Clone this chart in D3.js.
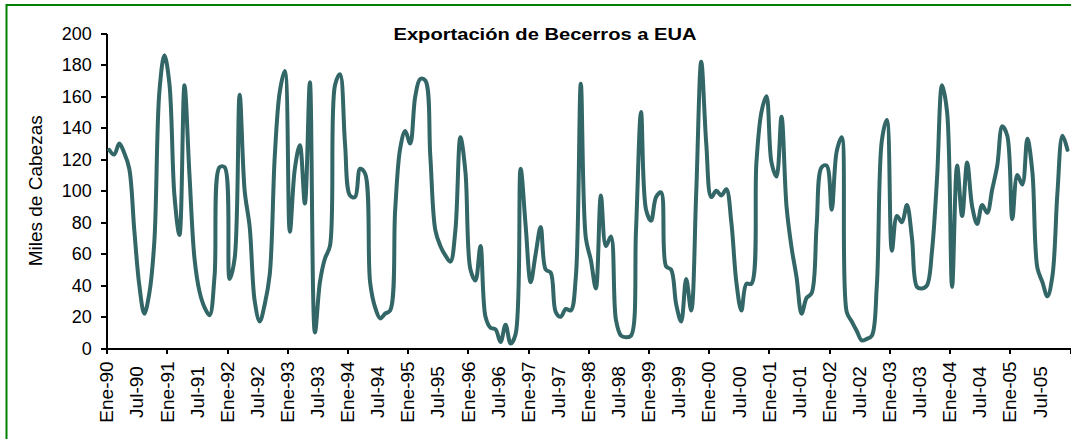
<!DOCTYPE html>
<html>
  <head>
    <meta charset="utf-8">
    <script src="https://cdn.jsdelivr.net/npm/d3@7"></script>
    <style type="text/css">
      body { margin: 0; background: #fff; }
      .axis path,
      .axis line {
      fill: none;
      stroke: black;
      stroke-width: 2px;
      shape-rendering: crispEdges;
      }
      .axis text, .lbl {
      font-family: "Liberation Sans", Arial, sans-serif;
      fill: black;
      }
    </style>
  </head>
  <body>
    <div class="plot_canvas"></div>
    <script>

    // month names and years on the category axis
    var monthNames = ["Ene", "Feb", "Mar", "Abr", "May", "Jun", "Jul", "Ago", "Sep", "Oct", "Nov", "Dic"];
    var years = ["90", "91", "92", "93", "94", "95", "96", "97", "98", "99", "00", "01", "02", "03", "04", "05"];

    // exports, thousands of head, one row per year (Ene..Dic)
    var v1990 = [126, 123, 130, 124, 114, 75, 40, 22, 35, 68, 163, 186];
    var v1991 = [168, 97, 72, 167, 110, 57, 36, 26, 21, 46, 115, 115];
    var v1992 = [44, 57, 161, 100, 77, 30, 17, 28, 47, 122, 163, 176];
    var v1993 = [74, 114, 129, 92, 169, 10, 42, 57, 65, 167, 174, 130];
    var v1994 = [97, 96, 114, 111, 42, 26, 19, 22, 24, 88, 127, 138];
    var v1995 = [130, 160, 171, 170, 122, 75, 65, 59, 55, 75, 134, 112];
    var v1996 = [50, 43, 65, 20, 13, 12, 4, 15, 3, 9, 114, 78];
    var v1997 = [42, 60, 77, 50, 48, 23, 20, 25, 24, 45, 168, 70];
    var v1998 = [56, 38, 97, 65, 71, 18, 8, 7, 8, 75, 150, 88];
    var v1999 = [81, 96, 99, 52, 50, 28, 17, 44, 24, 99, 182, 130];
    var v2000 = [96, 100, 97, 101, 80, 42, 24, 41, 41, 118, 150, 160];
    var v2001 = [118, 109, 147, 90, 64, 45, 22, 32, 35, 78, 115, 116];
    var v2002 = [88, 125, 134, 23, 17, 11, 5, 6, 8, 40, 132, 145];
    var v2003 = [62, 84, 80, 91, 70, 39, 38, 40, 62, 108, 167, 150];
    var v2004 = [39, 116, 84, 118, 90, 79, 91, 86, 101, 116, 141, 135];
    var v2005 = [82, 110, 104, 133, 112, 51, 42, 33, 46, 99, 135, 126];

    var yTicks = [0, 20, 40, 60, 80, 100, 120, 140, 160, 180, 200];

    var title = "Exportación de Becerros a EUA";
    var yTitle = "Miles de Cabezas";

    var values = [].concat(v1990, v1991, v1992, v1993, v1994, v1995, v1996, v1997,
      v1998, v1999, v2000, v2001, v2002, v2003, v2004, v2005);
    var categories = [];
    years.forEach(function(yy) {
      monthNames.forEach(function(m) { categories.push(m + "-" + yy); });
    });
    var full_path = values.map(function(v, i) { return {idx: i, path: v}; });

    var W = 1071, H = 439;
    var margin = {left: 106.7, right: 1070, top: 33.3, bottom: 348.3};

    var xScale = d3.scaleLinear()
    .domain([0, categories.length])
    .range([margin.left, margin.right]);

    var yScale = d3.scaleLinear()
    .domain([0, 200])
    .range([margin.bottom, margin.top]);

    var svg = d3.select(".plot_canvas")
    .append("svg")
    .attr("width", W)
    .attr("height", H);

    svg.append("rect")
    .attr("width", W).attr("height", H)
    .attr("fill", "white");

    // green frame (right and bottom edges fall outside the picture)
    svg.append("rect")
    .attr("x", 6.5).attr("y", 5)
    .attr("width", W + 20).attr("height", H + 20)
    .attr("fill", "none")
    .attr("stroke", "#008000")
    .attr("stroke-width", 2);

    // y axis
    var yAxis = d3.axisLeft(yScale)
    .tickValues(yTicks)
    .tickSize(6)
    .tickPadding(9)
    .tickSizeOuter(0);
    svg.append("g")
    .attr("class", "axis")
    .attr("transform", "translate(" + margin.left + ",0)")
    .call(yAxis)
    .selectAll("text")
    .style("font-size", "18px");

    // x axis: tick marks every 12 months
    var xTickVals = d3.range(0, categories.length + 1, 12);
    var xAxis = d3.axisBottom(xScale)
    .tickValues(xTickVals)
    .tickSize(6)
    .tickSizeOuter(0)
    .tickFormat("");
    svg.append("g")
    .attr("class", "axis")
    .attr("transform", "translate(0," + margin.bottom + ")")
    .call(xAxis);

    // x labels every 6 months, rotated
    var labelIdx = d3.range(0, categories.length, 6);
    svg.append("g")
    .selectAll("text")
    .data(labelIdx).enter()
    .append("text")
    .attr("class", "lbl")
    .attr("transform", function(d) { return "translate(" + xScale(d) + ",392) rotate(-90)"; })
    .attr("text-anchor", "middle")
    .attr("dy", "0.35em")
    .style("font-size", "19px")
    .text(function(d) { return categories[d]; });

    // the line
    var line = d3.line()
    .x(function(d) { return xScale(d.idx + 0.5); })
    .y(function(d) { return yScale(d.path); })
    .curve(d3.curveCatmullRom.alpha(0.5));

    svg.append("path")
    .attr("d", line(full_path))
    .attr("fill", "none")
    .attr("stroke", "#336666")
    .attr("stroke-width", 4)
    .attr("stroke-linejoin", "round")
    .attr("stroke-linecap", "round");

    // titles
    svg.append("text")
    .attr("class", "lbl")
    .attr("x", 545).attr("y", 40)
    .attr("text-anchor", "middle")
    .attr("textLength", 303)
    .attr("lengthAdjust", "spacingAndGlyphs")
    .style("font-size", "17px")
    .style("font-weight", "bold")
    .text(title);

    svg.append("text")
    .attr("class", "lbl")
    .attr("transform", "translate(35," + ((margin.top + margin.bottom) / 2) + ") rotate(-90)")
    .attr("text-anchor", "middle")
    .attr("dy", "0.35em")
    .style("font-size", "19px")
    .text(yTitle);

  </script>
</body>
</html>
